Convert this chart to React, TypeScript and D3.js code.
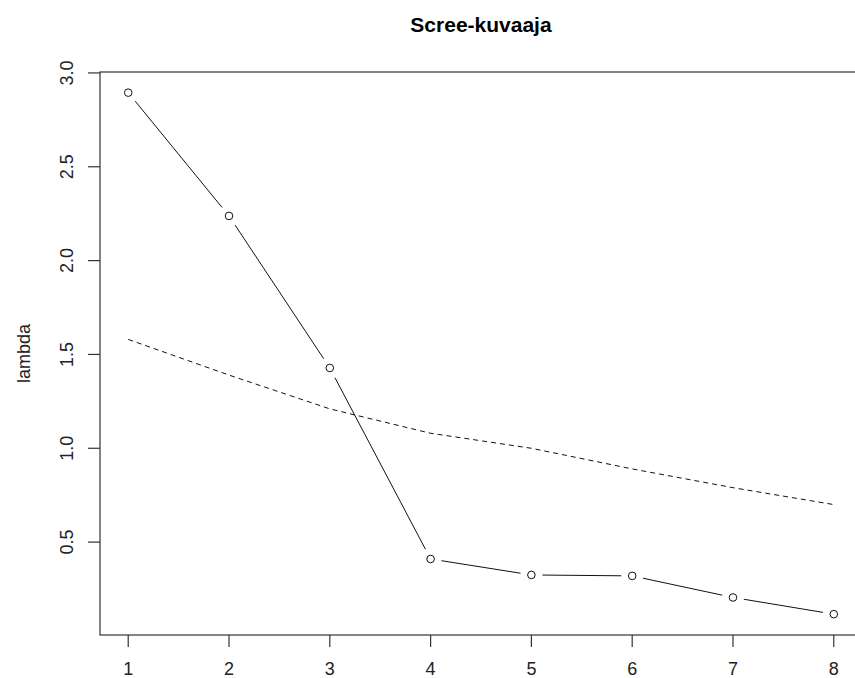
import React from "react";
import * as d3 from "d3";

const components = [1, 2, 3, 4, 5, 6, 7, 8];
const eigenvalues = [2.895, 2.238, 1.428, 0.41, 0.325, 0.32, 0.205, 0.116];
const referenceValues = [1.58, 1.39, 1.21, 1.08, 1.0, 0.89, 0.79, 0.7];
const yTicks = [0.5, 1.0, 1.5, 2.0, 2.5, 3.0];
const titleText = "Scree-kuvaaja";
const yLabel = "lambda";

const W = 855;
const H = 678;
const plotLeft = 100;
const plotRight = 862;
const plotTop = 72;
const plotBottom = 635;
const font = "'Liberation Sans', Arial, sans-serif";

export default function App() {
  const x = d3.scaleLinear().domain([0.72, 8.28]).range([plotLeft, plotRight]);
  const y = d3.scaleLinear().domain([0.005, 3.005]).range([plotBottom, plotTop]);

  const pts = components.map((c, i) => [x(c), y(eigenvalues[i])] as [number, number]);
  const gap = 11;
  const segs = pts.slice(0, -1).map((p, i) => {
    const q = pts[i + 1];
    const dx = q[0] - p[0];
    const dy = q[1] - p[1];
    const len = Math.hypot(dx, dy);
    const ux = dx / len;
    const uy = dy / len;
    return [p[0] + ux * gap, p[1] + uy * gap, q[0] - ux * gap, q[1] - uy * gap];
  });

  const dashLine = d3
    .line<number>()
    .x((_, i) => x(components[i]))
    .y((d) => y(d));

  return (
    <svg
      width={W}
      height={H}
      style={{ position: "absolute", left: 0, top: 0, background: "#fff" }}
      fontFamily={font}
    >
      <rect x={0} y={0} width={W} height={H} fill="#fff" />
      <text x={(plotLeft + plotRight) / 2} y={32} textAnchor="middle" fontSize={21} fontWeight="bold" fill="#000">
        {titleText}
      </text>
      <rect
        x={plotLeft}
        y={plotTop}
        width={plotRight - plotLeft}
        height={plotBottom - plotTop}
        fill="none"
        stroke="#333"
        strokeWidth={1.2}
      />
      {yTicks.map((t) => (
        <g key={t}>
          <line x1={plotLeft - 12} x2={plotLeft} y1={y(t)} y2={y(t)} stroke="#333" strokeWidth={1.2} />
          <text
            transform={`translate(73,${y(t)}) rotate(-90)`}
            textAnchor="middle"
            fontSize={18}
            fill="#222"
          >
            {t.toFixed(1)}
          </text>
        </g>
      ))}
      {components.map((c) => (
        <g key={c}>
          <line x1={x(c)} x2={x(c)} y1={plotBottom} y2={plotBottom + 12} stroke="#333" strokeWidth={1.2} />
          <text x={x(c)} y={675} textAnchor="middle" fontSize={18} fill="#222">
            {c}
          </text>
        </g>
      ))}
      <text
        transform={`translate(30,${(plotTop + plotBottom) / 2}) rotate(-90)`}
        textAnchor="middle"
        fontSize={18}
        fill="#222"
      >
        {yLabel}
      </text>
      <path d={dashLine(referenceValues) || ""} fill="none" stroke="#111" strokeWidth={1} strokeDasharray="5,4" />
      {segs.map((s, i) => (
        <line key={i} x1={s[0]} y1={s[1]} x2={s[2]} y2={s[3]} stroke="#111" strokeWidth={1} />
      ))}
      {pts.map((p, i) => (
        <circle key={i} cx={p[0]} cy={p[1]} r={3.8} fill="#fff" stroke="#111" strokeWidth={1} />
      ))}
    </svg>
  );
}
